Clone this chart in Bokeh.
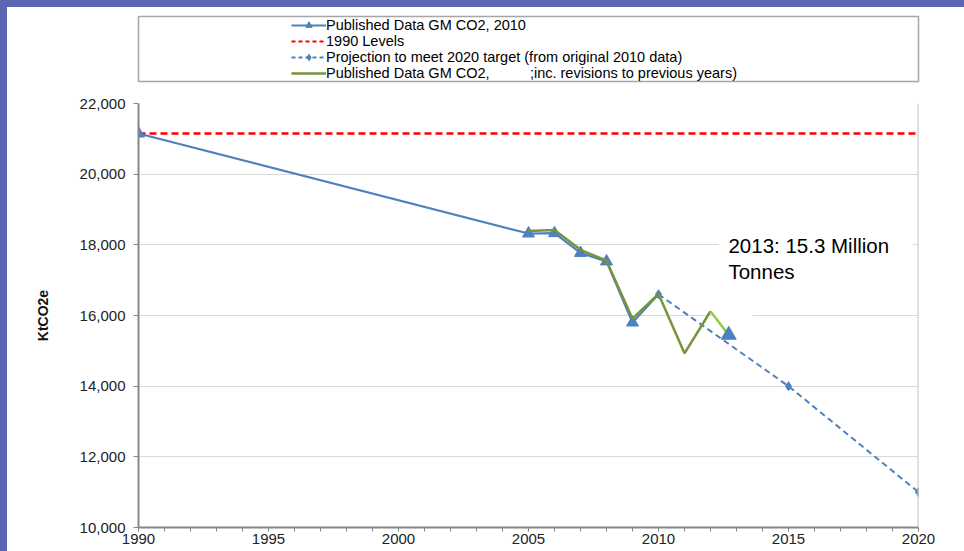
from bokeh.plotting import figure
from bokeh.layouts import row, column
from bokeh.models import (Legend, LegendItem, Range1d, NumeralTickFormatter,
                          SingleIntervalTicker, Span, Label, BoxAnnotation, Div)
from bokeh.embed import file_html
from bokeh.resources import INLINE

# ---- data ----
published_years = [1990, 2005, 2006, 2007, 2008, 2009, 2010]
published_co2 = [21150, 18320, 18330, 17770, 17530, 15800, 16600]

levels_years = [1990, 2020]
levels_1990 = [21150, 21150]

projection_years = [2010, 2015, 2020]
projection_co2 = [16600, 14000, 11000]

revised_years = [2005, 2006, 2007, 2008, 2009, 2010, 2011, 2012]
revised_co2 = [18390, 18420, 17860, 17550, 15910, 16610, 14930, 16120]

latest_years = [2012, 2012.7]
latest_co2 = [16120, 15450]

marker_2013_x = [2012.7]
marker_2013_y = [15450]

x_ticks_interval = 5
y_ticks_interval = 2000

legend_labels = [
    "Published Data GM CO2, 2010",
    "1990 Levels",
    "Projection to meet 2020 target (from original 2010 data)",
    "Published Data GM CO2,          ;inc. revisions to previous years)",
]
annotation_lines = ["2013: 15.3 Million", "Tonnes"]

FONT = "Liberation Sans"
BLUE = "#4F81BD"
RED = "#FF0000"
GREEN = "#77933C"
LIGHT_GREEN = "#8DCF3F"
AXIS = "#878787"
PURPLE = "#5A66B3"

# ---------------- main chart ----------------
p = figure(width=957, height=463, x_range=Range1d(1990, 2020),
           y_range=Range1d(10000, 22000), output_backend="svg",
           toolbar_location=None, min_border_left=131, min_border_right=46,
           min_border_top=15, min_border_bottom=24,
           background_fill_color="white", border_fill_color="white",
           outline_line_color=None, margin=0)

p.xaxis.ticker = SingleIntervalTicker(interval=x_ticks_interval, num_minor_ticks=5)
p.xaxis.axis_line_color = AXIS
p.xaxis.axis_line_width = 2
p.xaxis.major_tick_line_color = AXIS
p.xaxis.minor_tick_line_color = AXIS
p.xaxis.major_tick_out = 4
p.xaxis.major_tick_in = 0
p.xaxis.minor_tick_out = 4
p.xaxis.minor_tick_in = 0
p.xaxis.major_label_standoff = 2
p.xaxis.major_label_text_font = FONT
p.xaxis.major_label_text_font_size = "15px"
p.xaxis.major_label_text_color = "#222222"

p.yaxis.ticker = SingleIntervalTicker(interval=y_ticks_interval, num_minor_ticks=0)
p.yaxis.formatter = NumeralTickFormatter(format="0,0")
p.yaxis.axis_line_color = AXIS
p.yaxis.axis_line_width = 2
p.yaxis.major_tick_line_color = AXIS
p.yaxis.minor_tick_line_color = None
p.yaxis.major_tick_out = 5
p.yaxis.major_tick_in = 0
p.yaxis.major_label_standoff = 8
p.yaxis.major_label_text_font = FONT
p.yaxis.major_label_text_font_size = "15px"
p.yaxis.major_label_text_color = "#222222"
p.yaxis.axis_label = "KtCO2e"
p.yaxis.axis_label_text_font = FONT
p.yaxis.axis_label_text_font_size = "14px"
p.yaxis.axis_label_text_font_style = "bold"
p.yaxis.axis_label_text_color = "#111111"
p.yaxis.axis_label_standoff = 26

p.xgrid.visible = False
p.ygrid.grid_line_color = "#D9D9D9"
p.ygrid.grid_line_width = 1

p.add_layout(Span(location=2020, dimension="height", line_color="#C4C4C4", line_width=2))

# white boxes behind the annotation
p.add_layout(BoxAnnotation(left=2012.31, right=2019.77, bottom=16425, top=18406,
                           fill_color="white", fill_alpha=1, line_color=None, level="underlay"))
p.add_layout(BoxAnnotation(left=2012.12, right=2013.62, bottom=15292, top=16425,
                           fill_color="white", fill_alpha=1, line_color=None, level="underlay"))

# series
p.line(levels_years, levels_1990, line_color=RED, line_width=2.5, line_dash="7 4")
p.line(published_years, published_co2, line_color=BLUE, line_width=2.2)
p.scatter(published_years[:-1], published_co2[:-1], marker="triangle",
          size=12, fill_color=BLUE, line_color=BLUE)
p.line(projection_years, projection_co2, line_color=BLUE, line_width=2, line_dash="6 4")
p.scatter(projection_years, projection_co2, marker="diamond", size=9,
          fill_color=BLUE, line_color=BLUE)
p.line(revised_years, revised_co2, line_color=GREEN, line_width=2.5)
p.line(latest_years, latest_co2, line_color=LIGHT_GREEN, line_width=2.5)
p.scatter(marker_2013_x, marker_2013_y, marker="triangle", size=15,
          fill_color=BLUE, line_color=BLUE)

p.add_layout(Label(x=2012.69, y=17981, text=annotation_lines[0], text_font=FONT,
                   text_font_size="20.5px", text_baseline="middle", text_color="black"))
p.add_layout(Label(x=2012.69, y=17245, text=annotation_lines[1], text_font=FONT,
                   text_font_size="20.5px", text_baseline="middle", text_color="black"))

# ---------------- legend header ----------------
# (the series are repeated here, outside this panel's visible range, so that the
#  legend can show their line and marker styles)
h = figure(width=957, height=81, x_range=Range1d(0, 1), y_range=Range1d(0, 1),
           output_backend="svg", toolbar_location=None,
           x_axis_location=None, y_axis_location=None,
           min_border_left=125, min_border_right=41, min_border_top=9,
           min_border_bottom=7, background_fill_color="white",
           border_fill_color="white", outline_line_color="#A6A6A6",
           outline_line_width=1.5, margin=0)
h.grid.visible = False

lg_blue = h.line(published_years, published_co2, line_color=BLUE, line_width=2.2)
lg_blue_tri = h.scatter(published_years, published_co2, marker="triangle", size=9,
                        fill_color=BLUE, line_color=BLUE)
lg_red = h.line(levels_years, levels_1990, line_color=RED, line_width=2.2, line_dash="4 3")
lg_proj = h.line(projection_years, projection_co2, line_color=BLUE, line_width=2,
                 line_dash="4 3")
lg_proj_dia = h.scatter(projection_years, projection_co2, marker="diamond", size=8,
                        fill_color=BLUE, line_color=BLUE)
lg_green = h.line(revised_years, revised_co2, line_color=GREEN, line_width=2.5)

legend = Legend(items=[
    LegendItem(label=legend_labels[0], renderers=[lg_blue, lg_blue_tri]),
    LegendItem(label=legend_labels[1], renderers=[lg_red]),
    LegendItem(label=legend_labels[2], renderers=[lg_proj, lg_proj_dia]),
    LegendItem(label=legend_labels[3], renderers=[lg_green]),
], location=(153, 0), orientation="vertical", padding=0, spacing=0, margin=0,
    label_height=16, glyph_height=16, glyph_width=35, label_standoff=0,
    border_line_color=None, background_fill_alpha=0,
    label_text_font=FONT, label_text_font_size="14.5px", label_text_color="black")
h.add_layout(legend)

# ---------------- frame strips ----------------
left_strip = Div(text="", width=7, height=551, margin=0,
                 styles={"background-color": PURPLE})
top_strip = Div(text="", width=957, height=7, margin=0,
                styles={"background-color": PURPLE})

layout = row(left_strip, column(top_strip, h, p, spacing=0, margin=0), spacing=0, margin=0)

open("out.html", "w").write(file_html(layout, INLINE))
